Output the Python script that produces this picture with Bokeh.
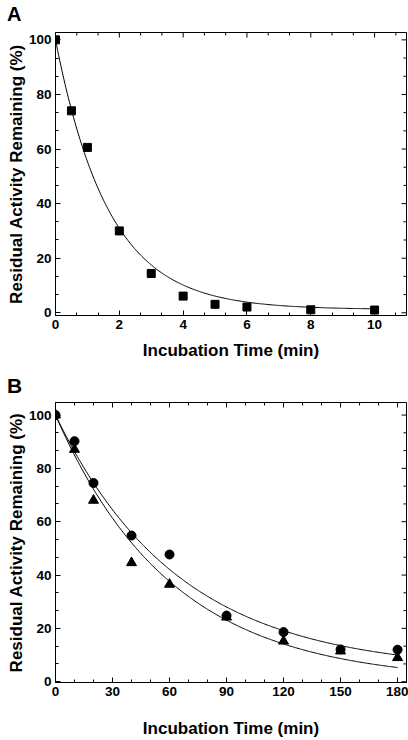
import numpy as np
from bokeh.plotting import figure
from bokeh.layouts import column
from bokeh.models import Range1d, Div, SingleIntervalTicker
from bokeh.embed import file_html
from bokeh.resources import INLINE

# ---- Panel A data ----
a_time = [0, 0.5, 1, 2, 3, 4, 5, 6, 8, 10]
a_activity = [100, 74, 60.6, 30, 14.4, 6.1, 3.1, 2.1, 1.1, 1.0]
# single-exponential fit parameters: y = offset + amp * exp(-k t)
a_fit_offset, a_fit_amp, a_fit_k = 1.2, 98.8, 0.6

# ---- Panel B data ----
b_time = [0, 10, 20, 40, 60, 90, 120, 150, 180]
b_circles = [100, 90.2, 74.5, 54.8, 47.7, 24.8, 18.6, 12.1, 12.0]
b_triangles = [100, 87.1, 68.0, 44.6, 36.5, 24.2, 15.2, 11.5, 9.0]
b_fit_circ = (4.0, 96.0, 0.0154)
b_fit_tri = (0.0, 100.0, 0.0163)

FONT = "Liberation Sans"
N_MINOR = 3


def make_axis(ax, step, label):
    ax.ticker = SingleIntervalTicker(interval=step, num_minor_ticks=N_MINOR)
    ax.major_tick_in = 5
    ax.major_tick_out = 0
    ax.minor_tick_in = 3
    ax.minor_tick_out = 0
    ax.axis_line_color = "black"
    ax.major_tick_line_color = "black"
    ax.minor_tick_line_color = "black"
    ax.major_label_text_font = FONT
    ax.major_label_text_font_style = "bold"
    ax.major_label_text_font_size = "13.5px"
    ax.major_label_text_color = "black"
    ax.major_label_standoff = 4
    ax.axis_label = label
    ax.axis_label_text_font = FONT
    ax.axis_label_text_font_style = "bold"
    ax.axis_label_text_font_size = "17px"
    ax.axis_label_text_color = "black"


def mirror_ticks(p, xr, yr, xstep, ystep):
    # inward ticks on the top and right frame edges (half of each dash is clipped by the frame)
    def ticks(lo, hi, step):
        allt = np.arange(0, hi + 1e-9, step / N_MINOR)
        allt = allt[allt >= lo]
        major = [t for t in allt if abs(t / step - round(t / step)) < 1e-6]
        minor = [t for t in allt if abs(t / step - round(t / step)) >= 1e-6]
        return major, minor
    xmaj, xmin_ = ticks(xr[0], xr[1], xstep)
    ymaj, ymin_ = ticks(max(yr[0], 0), yr[1], ystep)
    p.scatter(xmaj, [yr[1]] * len(xmaj), marker="dash", angle=np.pi / 2, size=10, line_color="black", line_width=1)
    p.scatter(xmin_, [yr[1]] * len(xmin_), marker="dash", angle=np.pi / 2, size=6, line_color="black", line_width=1)
    p.scatter([xr[1]] * len(ymaj), ymaj, marker="dash", size=10, line_color="black", line_width=1)
    p.scatter([xr[1]] * len(ymin_), ymin_, marker="dash", size=6, line_color="black", line_width=1)


def letter_div(letter, size, height, indent, pad_top):
    html = f'<span style="display:inline-block;margin-left:{indent}">{letter}</span>'
    return Div(text=html, width=60, height=height, margin=0,
               styles={"font-family": FONT, "font-weight": "bold", "font-size": size,
                       "color": "black", "padding-top": pad_top, "line-height": "1"})


def build(xr, yr, xstep, height, top, bottom, left, standoff_x, standoff_y):
    p = figure(width=408, height=height, x_range=Range1d(*xr), y_range=Range1d(*yr),
               output_backend="svg", toolbar_location=None,
               min_border_left=left, min_border_right=2, min_border_top=top,
               min_border_bottom=bottom, margin=0)
    p.title.visible = False
    p.outline_line_color = "black"
    p.outline_line_width = 1
    p.xgrid.visible = False
    p.ygrid.visible = False
    make_axis(p.xaxis[0], xstep, "Incubation Time (min)")
    make_axis(p.yaxis[0], 20, "Residual Activity Remaining (%)")
    p.xaxis[0].axis_label_standoff = standoff_x
    p.yaxis[0].axis_label_standoff = standoff_y
    mirror_ticks(p, xr, yr, xstep, 20)
    return p


# panel A: frame 283 px high (height 344 - top 8 - bottom 53)
divA = letter_div("A", "20px", 24, "7px", "4px")
pA = build((0, 11), (-1, 102.7), 2, 344, 8, 53, 54, 9, 0)
pA.scatter(a_time, a_activity, marker="square", size=8, color="black")
ta = np.linspace(0, 10, 300)
pA.line(ta, a_fit_offset + a_fit_amp * np.exp(-a_fit_k * ta), line_color="black", line_width=1)

# panel B: frame 283 px high (height 344 - top 6 - bottom 55)
divB = letter_div("B", "21px", 28, "7px", "7px")
pB = build((0, 184.7), (-0.3, 104.7), 30, 344, 6, 55, 55, 20, 0)
tb = np.linspace(0, 180, 300)
for (o, amp, k) in (b_fit_circ, b_fit_tri):
    pB.line(tb, o + amp * np.exp(-k * tb), line_color="black", line_width=1)
pB.scatter(b_time, b_circles, marker="circle", size=9, color="black")
pB.scatter(b_time, b_triangles, marker="triangle", size=10, color="black")

layout = column(divA, pA, divB, pB, spacing=0)
open("out.html", "w").write(file_html(layout, INLINE))
